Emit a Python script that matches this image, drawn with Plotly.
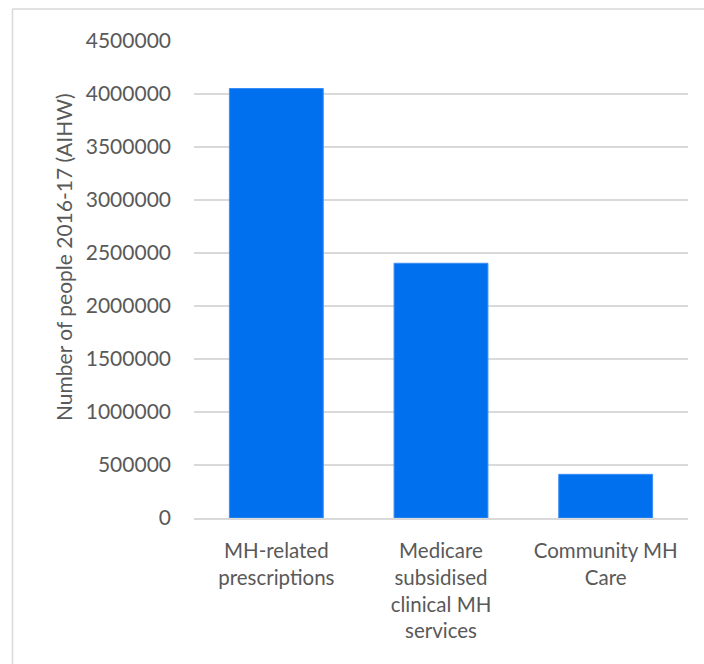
import plotly.graph_objects as go

categories = ["MH-related<br>prescriptions",
              "Medicare<br>subsidised<br>clinical MH<br>services",
              "Community MH<br>Care"]
values = [4052000, 2403000, 412000]
y_ticks = [0, 500000, 1000000, 1500000, 2000000, 2500000, 3000000, 3500000, 4000000, 4500000]
y_title = "Number of people 2016-17 (AIHW)"

FONT = "Lato"
TXT = "#595959"
GRID = "#d9d9d9"

fig = go.Figure(go.Bar(
    x=categories, y=values,
    marker=dict(color="#0070EF", line=dict(color="#3b8ef5", width=1)),
    width=0.57,
))

L, R, T, B = 194, 16, 41, 146
W, H = 704, 664
pw, ph = W - L - R, H - T - B
bx = (12.5 - L) / pw
by = 1 + (T - 9) / ph

fig.update_layout(
    width=W, height=H,
    margin=dict(l=L, r=R, t=T, b=B, autoexpand=False),
    paper_bgcolor="white", plot_bgcolor="white",
    font=dict(family=FONT, size=20, color=TXT),
    showlegend=False,
    xaxis=dict(showgrid=False, showline=True, linecolor=GRID, linewidth=1.5,
               tickfont=dict(size=20.5, color=TXT), ticklabelstandoff=14,
               automargin=False),
    yaxis=dict(range=[0, 4500000], tickvals=y_ticks,
               ticktext=[str(v) for v in y_ticks],
               showgrid=True, gridcolor=GRID, gridwidth=1.5, zeroline=False,
               tickfont=dict(size=21, color=TXT), ticklabelstandoff=22,
               automargin=False),
    annotations=[dict(text=y_title, textangle=-90, xref="paper", yref="paper",
                      x=(63 - L) / pw, y=(H - B - 257) / ph,
                      xanchor="center", yanchor="middle", showarrow=False,
                      font=dict(size=21, color=TXT, family=FONT))],
    shapes=[
        dict(type="line", xref="paper", yref="paper", x0=bx, x1=bx, y0=-0.5, y1=by,
             line=dict(color=GRID, width=1.5)),
        dict(type="line", xref="paper", yref="paper", x0=bx, x1=1.2, y0=by, y1=by,
             line=dict(color=GRID, width=1.5)),
    ],
)

fig.write_html("out.html")
